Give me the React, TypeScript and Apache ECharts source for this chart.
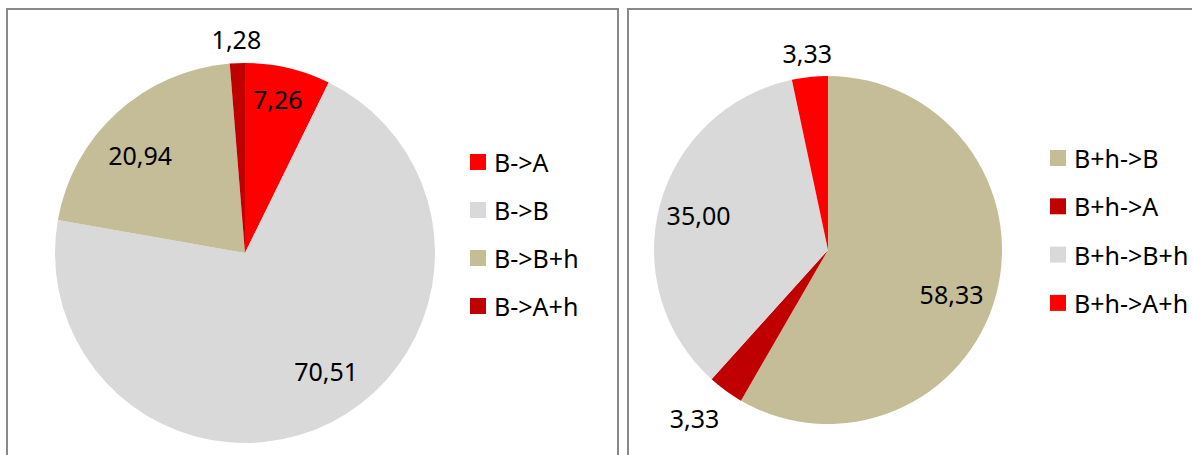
import { useEffect, useRef } from "react";
import * as echarts from "echarts";

// ---- data ----
const leftNames = ["B->A", "B->B", "B->B+h", "B->A+h"];
const leftValues = [7.26, 70.51, 20.94, 1.28];
const rightNames = ["B+h->B", "B+h->A", "B+h->B+h", "B+h->A+h"];
const rightValues = [58.33, 3.33, 35.0, 3.33];

// ---- styles ----
const leftColors = ["#FF0000", "#D9D9D9", "#C4BD97", "#C00000"];
const rightColors = ["#C4BD97", "#C00000", "#D9D9D9", "#FF0000"];
const FONT = "'Noto Sans', 'Open Sans', sans-serif";

// label placement (radius from centre, pixel nudge)
const leftLabelR = [155, 141, 141, 211];
const leftLabelNudge = [[-3, 0], [16, -10], [-8, 8], [0, 0]];
const rightLabelR = [128, 212, 131, 195];
const rightLabelNudge = [[-3, 10], [-7, -6], [0, 0], [0, 0]];

const fmt = (v: number) => v.toFixed(2).replace(".", ",");

function buildPie(
  names: string[],
  values: number[],
  colors: string[],
  center: number[],
  r: number,
  labelR: number[],
  nudge: number[][]
) {
  const main = {
    type: "pie",
    center,
    radius: [0, r],
    startAngle: 90,
    clockwise: true,
    avoidLabelOverlap: false,
    silent: true,
    emphasis: { disabled: true },
    label: { show: false },
    labelLine: { show: false },
    itemStyle: { borderWidth: 0 },
    data: names.map((n, i) => ({ name: n, value: values[i], itemStyle: { color: colors[i] } })),
  };
  const overlays = names.map((_, k) => ({
    type: "pie",
    center,
    radius: [labelR[k] - 10, labelR[k] + 10],
    startAngle: 90,
    clockwise: true,
    avoidLabelOverlap: false,
    silent: true,
    emphasis: { disabled: true },
    labelLine: { show: false },
    itemStyle: { color: "rgba(0,0,0,0)", borderWidth: 0 },
    labelLayout: () => ({ dx: nudge[k][0], dy: nudge[k][1] }),
    data: names.map((n, i) => ({
      name: n,
      value: values[i],
      label:
        i === k
          ? {
              show: true,
              position: "inside",
              formatter: fmt(values[i]),
              color: "#000",
              fontSize: 25,
              fontFamily: FONT,
              textBorderWidth: 0,
            }
          : { show: false },
    })),
  }));
  return [main, ...overlays];
}

export default function App() {
  const ref = useRef<HTMLDivElement>(null);
  useEffect(() => {
    if (!ref.current) return;
    const chart = echarts.init(ref.current, undefined, { renderer: "svg" });
    const legendText = {
      fontSize: 25,
      lineHeight: 28,
      color: "#000",
      fontFamily: FONT,
      padding: [0, 0, 0, 3],
    };
    chart.setOption({
      animation: false,
      backgroundColor: "#fff",
      graphic: [
        {
          type: "rect",
          silent: true,
          shape: { x: 7, y: 9, width: 611, height: 470 },
          style: { fill: "none", stroke: "#888", lineWidth: 2 },
        },
        {
          type: "rect",
          silent: true,
          shape: { x: 628, y: 9, width: 620, height: 470 },
          style: { fill: "none", stroke: "#888", lineWidth: 2 },
        },
      ],
      legend: [
        {
          orient: "vertical",
          left: 470,
          top: 148,
          padding: 0,
          data: leftNames,
          icon: "rect",
          itemWidth: 16,
          itemHeight: 16,
          itemGap: 20,
          selectedMode: false,
          textStyle: legendText,
        },
        {
          orient: "vertical",
          left: 1050,
          top: 144,
          padding: 0,
          data: rightNames,
          icon: "rect",
          itemWidth: 16,
          itemHeight: 16,
          itemGap: 20.3,
          selectedMode: false,
          textStyle: legendText,
        },
      ],
      series: [
        ...buildPie(leftNames, leftValues, leftColors, [245, 253], 190, leftLabelR, leftLabelNudge),
        ...buildPie(rightNames, rightValues, rightColors, [828, 250], 174, rightLabelR, rightLabelNudge),
      ],
    });
    return () => chart.dispose();
  }, []);
  return (
    <div
      ref={ref}
      style={{ position: "absolute", left: 0, top: 0, width: 1192, height: 455 }}
    />
  );
}
